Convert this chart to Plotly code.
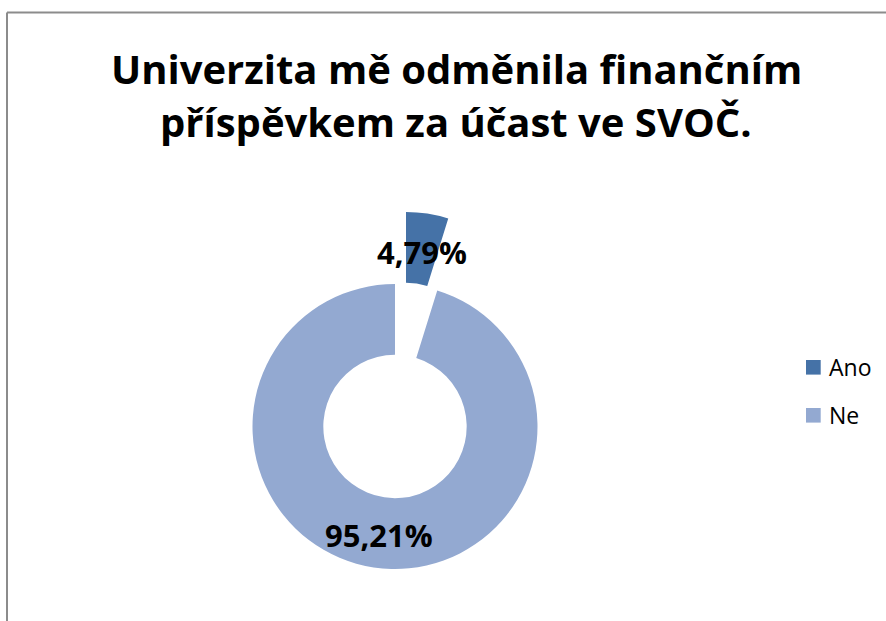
import math
import plotly.graph_objects as go

# ---- data ----
categories = ["Ano", "Ne"]
values = [4.79, 95.21]
colors = ["#4572A7", "#93A9D1"]
title_lines = ["Univerzita mě odměnila finančním", "příspěvkem za účast ve SVOČ."]

W, H = 886, 621
FONT = "Open Sans"

# geometry (pixels)
cx, cy, R = 395.0, 426.5, 142.5
hole = 0.503
pull_dx, pull_dy = 11.0, 72.0  # offset of the exploded slice


def px_dom(xc, yc, r):
    return dict(x=[(xc - r) / W, (xc + r) / W], y=[1 - (yc + r) / H, 1 - (yc - r) / H])


fig = go.Figure()
# main ring (Ne)
fig.add_trace(go.Pie(
    labels=categories, values=values, sort=False, direction="clockwise", rotation=0,
    hole=hole, textinfo="none", hoverinfo="label+percent",
    marker=dict(colors=["rgba(0,0,0,0)", colors[1]], line=dict(width=0)),
    domain=px_dom(cx, cy, R), showlegend=False,
))
# exploded slice (Ano)
fig.add_trace(go.Pie(
    labels=categories, values=values, sort=False, direction="clockwise", rotation=0,
    hole=hole, textinfo="none", hoverinfo="label+percent",
    marker=dict(colors=[colors[0], "rgba(0,0,0,0)"], line=dict(width=0)),
    domain=px_dom(cx + pull_dx, cy - pull_dy, R), showlegend=False,
))

annotations = []
# data labels at mid radius of ring
total = sum(values)
cum = 0.0
rm = R * (1 + hole) / 2
for i, v in enumerate(values):
    mid = 2 * math.pi * (cum + v / 2) / total
    cum += v
    ox, oy = (pull_dx, -pull_dy) if i == 0 else (0, 0)
    lx = cx + ox + rm * math.sin(mid)
    ly = cy + oy - rm * math.cos(mid) + 3
    annotations.append(dict(
        x=lx / W, y=1 - ly / H, xref="paper", yref="paper", showarrow=False,
        text="<b>" + f"{v:.2f}".replace(".", ",") + "%</b>",
        font=dict(family=FONT, size=31, color="#000000"),
        xanchor="center", yanchor="middle",
    ))

# title lines
for i, t in enumerate(title_lines):
    annotations.append(dict(
        x=456 / W, y=1 - (68 + 54 * i) / H, xref="paper", yref="paper", showarrow=False,
        text="<b>" + t + "</b>", font=dict(family=FONT, size=40, color="#000000"),
        xanchor="center", yanchor="middle",
    ))

# legend
shapes = []
leg_y = [367.3, 415.3]
for i, c in enumerate(categories):
    shapes.append(dict(type="rect", xref="paper", yref="paper",
                       x0=806 / W, x1=820.7 / W, y0=1 - (leg_y[i] + 7.3) / H, y1=1 - (leg_y[i] - 7.3) / H,
                       fillcolor=colors[i], line=dict(width=0)))
    annotations.append(dict(
        x=827 / W, y=1 - leg_y[i] / H, xref="paper", yref="paper", showarrow=False,
        text=c, font=dict(family=FONT, size=23, color="#000000"),
        xanchor="left", yanchor="middle",
    ))

# chart area border (top and left visible)
shapes.append(dict(type="line", xref="paper", yref="paper", x0=7 / W, x1=1.1,
                   y0=1 - 12.5 / H, y1=1 - 12.5 / H, line=dict(color="#8C8C8C", width=2)))
shapes.append(dict(type="line", xref="paper", yref="paper", x0=7 / W, x1=7 / W,
                   y0=1 - 12.5 / H, y1=-0.1, line=dict(color="#8C8C8C", width=2)))

fig.update_layout(
    width=W, height=H, margin=dict(l=0, r=0, t=0, b=0),
    paper_bgcolor="white", plot_bgcolor="white",
    annotations=annotations, shapes=shapes, showlegend=False,
)
fig.write_html(
    "out.html",
    config={"displayModeBar": False},
    post_script="document.body.style.margin='0';document.body.style.overflow='hidden';",
)
